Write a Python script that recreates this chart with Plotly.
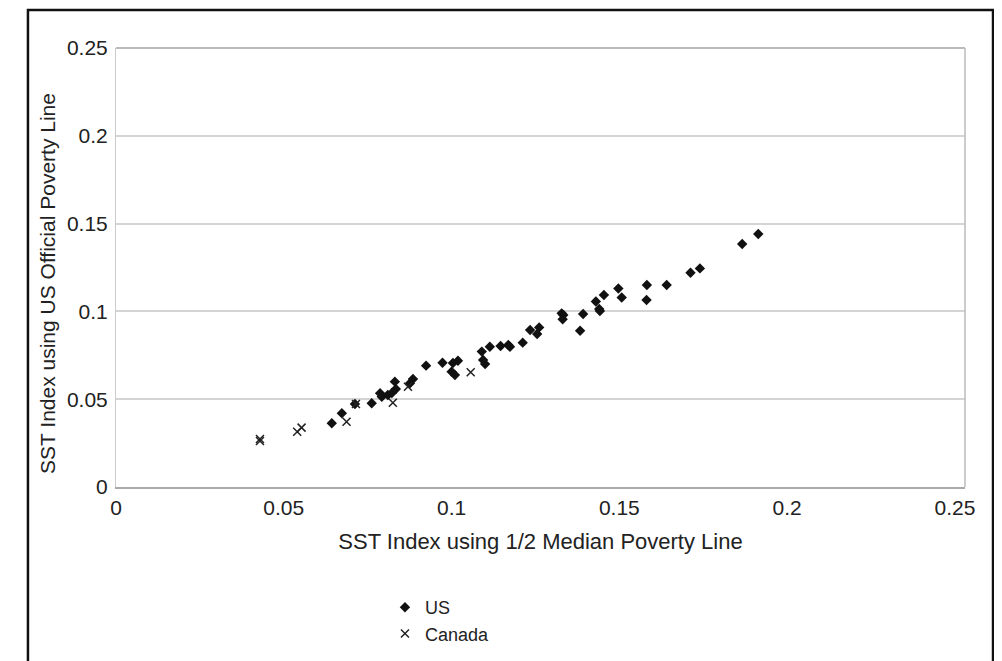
import plotly.graph_objects as go

# US series (x: SST index with 1/2 median line, y: SST index with US official line)
us_x = [0.0643, 0.0673, 0.0712, 0.0762, 0.0787, 0.0792, 0.0810, 0.0822, 0.0831, 0.0834,
        0.0876, 0.0885, 0.0924, 0.0973, 0.1004, 0.1019, 0.1000, 0.1010, 0.1090, 0.1094,
        0.1100, 0.1114, 0.1146, 0.1169, 0.1174, 0.1212, 0.1234, 0.1255, 0.1261, 0.1328,
        0.1333, 0.1331, 0.1383, 0.1392, 0.1430, 0.1440, 0.1442, 0.1454, 0.1497, 0.1507,
        0.1581, 0.1582, 0.1641, 0.1712, 0.1740, 0.1866, 0.1914]
us_y = [0.0363, 0.0420, 0.0473, 0.0477, 0.0534, 0.0514, 0.0524, 0.0535, 0.0600, 0.0558,
        0.0591, 0.0615, 0.0691, 0.0708, 0.0706, 0.0719, 0.0657, 0.0638, 0.0771, 0.0723,
        0.0700, 0.0799, 0.0803, 0.0809, 0.0799, 0.0822, 0.0894, 0.0871, 0.0909, 0.0989,
        0.0980, 0.0955, 0.0890, 0.0985, 0.1056, 0.1014, 0.1002, 0.1093, 0.1130, 0.1079,
        0.1065, 0.1150, 0.1150, 0.1220, 0.1245, 0.1384, 0.1441]

# Canada series
ca_x = [0.0429, 0.0429, 0.0540, 0.0553, 0.0687, 0.0715, 0.0825, 0.0870, 0.1057]
ca_y = [0.0262, 0.0273, 0.0315, 0.0338, 0.0372, 0.0473, 0.0480, 0.0571, 0.0653]

x_ticks = [0, 0.05, 0.1, 0.15, 0.2, 0.25]
x_tick_labels = ["0", "0.05", "0.1", "0.15", "0.2", "0.25"]
y_ticks = [0, 0.05, 0.1, 0.15, 0.2, 0.25]
y_tick_labels = ["0", "0.05", "0.1", "0.15", "0.2", "0.25"]

x_title = "SST Index using 1/2 Median Poverty Line"
y_title = "SST Index using US Official Poverty Line"

FONT = "Liberation Sans, Arial, sans-serif"
TXT = "#222222"

fig = go.Figure()
fig.add_trace(go.Scatter(
    x=us_x, y=us_y, mode="markers", name="US",
    marker=dict(symbol="diamond", size=8, color="#111111", line=dict(width=0)),
))
fig.add_trace(go.Scatter(
    x=ca_x, y=ca_y, mode="markers", name="Canada",
    marker=dict(symbol="x-thin-open", size=8, color=TXT,
                line=dict(width=1.5, color=TXT)),
))

fig.update_layout(
    width=1002, height=661,
    margin=dict(l=108, r=45, t=40, b=182, autoexpand=False),
    paper_bgcolor="white", plot_bgcolor="white",
    font=dict(family=FONT, color=TXT, size=17),
    showlegend=True,
    legend=dict(x=0.3168, y=-0.2323, xanchor="left", yanchor="top",
                orientation="v", font=dict(size=18, family=FONT, color=TXT),
                itemsizing="trace", tracegroupgap=0, bgcolor="rgba(0,0,0,0)"),
    xaxis=dict(
        range=[0, 0.253], tickvals=x_ticks, ticktext=x_tick_labels,
        showgrid=False, zeroline=False, automargin=False,
        showline=True, linecolor="#aaaaaa", linewidth=2,
        ticks="", ticklabelstandoff=1,
        tickfont=dict(size=21, family=FONT, color=TXT),
        title=dict(text=x_title,
                   font=dict(size=22, family=FONT, color=TXT), standoff=15),
    ),
    yaxis=dict(
        range=[0, 0.25], tickvals=y_ticks, ticktext=y_tick_labels,
        showgrid=True, gridcolor="#d4d4d4", gridwidth=2,
        zeroline=False, automargin=False,
        showline=True, linecolor="#cccccc", linewidth=1,
        ticks="outside", ticklen=3, tickcolor="rgba(0,0,0,0)",
        tickfont=dict(size=21, family=FONT, color=TXT),
    ),
    annotations=[
        dict(text=y_title, xref="paper", yref="paper",
             x=-0.0801, y=0.4647, xanchor="center", yanchor="middle",
             textangle=-90, showarrow=False,
             font=dict(size=21, family=FONT, color=TXT)),
    ],
    shapes=[
        # outer frame of the figure
        dict(type="rect", xref="paper", yref="paper",
             x0=-0.1037, x1=1.033, y0=-0.42, y1=1.0866,
             line=dict(color="#111111", width=2.5), layer="below"),
        # plot area right border
        dict(type="line", xref="paper", yref="paper", x0=1, x1=1, y0=0, y1=1,
             line=dict(color="#bbbbbb", width=1.5)),
        # plot area top border
        dict(type="line", xref="paper", yref="paper", x0=0, x1=1, y0=1, y1=1,
             line=dict(color="#bbbbbb", width=2)),
    ],
)

fig.write_html("out.html")
